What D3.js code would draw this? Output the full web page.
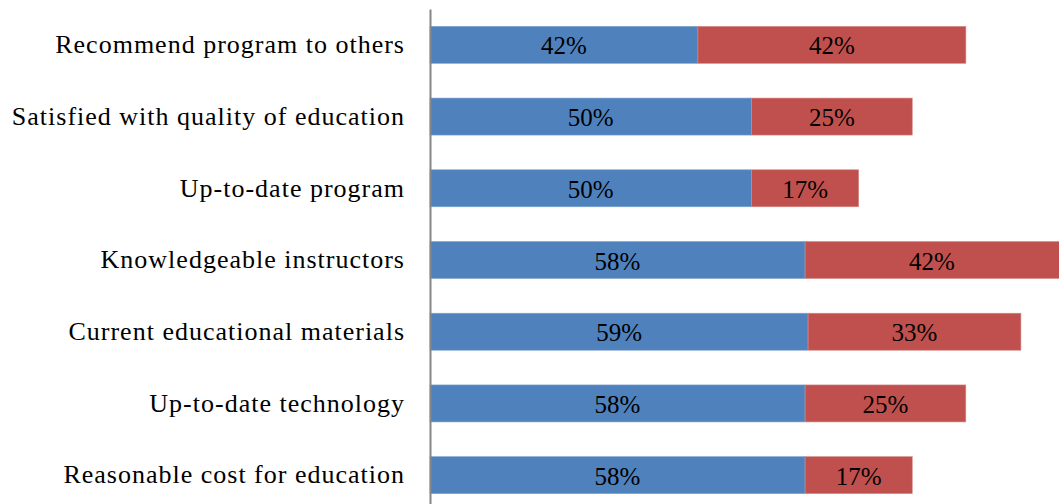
<!DOCTYPE html>
<html>
<head>
<meta charset="utf-8">
<script src="https://cdn.jsdelivr.net/npm/d3@7"></script>
<style>
  body { margin: 0; background: #fff; }
  svg text { font-family: "Liberation Serif", "Times New Roman", serif; }
</style>
</head>
<body>
<div id="chart"></div>
<script>
/**
 * Chart data.
 */
const categories = [
    "Recommend program to others",
    "Satisfied with quality of education",
    "Up-to-date program",
    "Knowledgeable instructors",
    "Current educational materials",
    "Up-to-date technology",
    "Reasonable cost for education",
];
const firstValues = [41.67, 50, 50, 58.33, 58.8, 58.33, 58.33];
const secondValues = [41.67, 25, 16.67, 41.67, 33.1, 25, 16.67];
const firstLabels = ["42%", "50%", "50%", "58%", "59%", "58%", "58%"];
const secondLabels = ["42%", "25%", "17%", "42%", "33%", "25%", "17%"];

const Width = 1059;
const Height = 504;
const Colors = { first: "#4f81bd", second: "#c0504d" };

const svg = d3.select("#chart")
    .append("svg")
        .attr("width", Width)
        .attr("height", Height);

const x = d3.scaleLinear()
    .domain([0, 100])
    .range([430, 1073]);

const y = d3.scaleBand()
    .domain(categories)
    .range([9, 511])
    .paddingInner(0.484)
    .paddingOuter(0.242);

const rows = categories.map((c, i) => ({
    name: c,
    a: firstValues[i],
    b: secondValues[i],
    la: firstLabels[i],
    lb: secondLabels[i],
}));

// First series.
svg.append("g")
    .selectAll("rect")
    .data(rows)
    .join("rect")
        .attr("x", x(0))
        .attr("y", d => y(d.name))
        .attr("width", d => x(d.a) - x(0))
        .attr("height", y.bandwidth())
        .attr("fill", Colors.first)
        .attr("stroke", "#7fa3d1")
        .attr("stroke-width", 0.6);

// Second series, stacked.
svg.append("g")
    .selectAll("rect")
    .data(rows)
    .join("rect")
        .attr("x", d => x(d.a))
        .attr("y", d => y(d.name))
        .attr("width", d => x(d.a + d.b) - x(d.a))
        .attr("height", y.bandwidth())
        .attr("fill", Colors.second)
        .attr("stroke", "#d58a88")
        .attr("stroke-width", 0.6);

// Value labels.
const labelY = d => y(d.name) + y.bandwidth() / 2 + 1;
svg.append("g")
    .selectAll("text")
    .data(rows)
    .join("text")
        .attr("x", d => (x(0) + x(d.a)) / 2)
        .attr("y", labelY)
        .attr("text-anchor", "middle")
        .attr("dominant-baseline", "central")
        .style("font-size", "25px")
        .text(d => d.la);

svg.append("g")
    .selectAll("text")
    .data(rows)
    .join("text")
        .attr("x", d => (x(d.a) + Math.min(x(d.a + d.b), Width)) / 2)
        .attr("y", labelY)
        .attr("text-anchor", "middle")
        .attr("dominant-baseline", "central")
        .style("font-size", "25px")
        .text(d => d.lb);

// Vertical axis with category labels.
const axis = svg.append("g")
    .attr("transform", `translate(${x(0)},0)`)
    .call(d3.axisLeft(y).tickSize(0).tickPadding(25));

axis.attr("font-family", null);

axis.select(".domain")
    .attr("stroke", "#868686")
    .attr("stroke-width", 2);

axis.selectAll("text")
    .style("font-size", "26px")
    .style("letter-spacing", "1px")
    .attr("fill", "#000");
</script>
</body>
</html>
